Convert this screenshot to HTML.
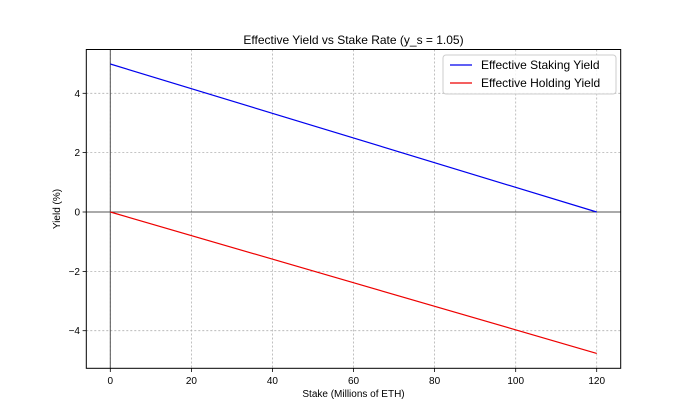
<!DOCTYPE html><html><head><style>body{margin:0;background:#fff}</style></head><body>
<svg width="690" height="414" xmlns="http://www.w3.org/2000/svg" font-family="Liberation Sans, DejaVu Sans, sans-serif">
<rect width="690" height="414" fill="#fff"/>
<g stroke="#b0b0b0" stroke-width="0.8" stroke-dasharray="2,2">
<line x1="110.3" y1="49.5" x2="110.3" y2="368.3"/><line x1="191.4" y1="49.5" x2="191.4" y2="368.3"/><line x1="272.4" y1="49.5" x2="272.4" y2="368.3"/><line x1="353.5" y1="49.5" x2="353.5" y2="368.3"/><line x1="434.6" y1="49.5" x2="434.6" y2="368.3"/><line x1="515.7" y1="49.5" x2="515.7" y2="368.3"/><line x1="596.7" y1="49.5" x2="596.7" y2="368.3"/>
<line x1="86.3" y1="93.3" x2="620.7" y2="93.3"/><line x1="86.3" y1="152.6" x2="620.7" y2="152.6"/><line x1="86.3" y1="271.4" x2="620.7" y2="271.4"/><line x1="86.3" y1="330.7" x2="620.7" y2="330.7"/>
</g>
<line x1="86.3" y1="212" x2="620.7" y2="212" stroke="#555" stroke-width="1"/>
<line x1="110.3" y1="49.5" x2="110.3" y2="368.3" stroke="#555" stroke-width="1"/>
<line x1="110.3" y1="64" x2="596.7" y2="212" stroke="#0000ee" stroke-width="1.2"/>
<line x1="110.3" y1="212" x2="596.7" y2="353.4" stroke="#ee0000" stroke-width="1.2"/>
<rect x="86.3" y="49.5" width="534.4" height="318.8" fill="none" stroke="#000" stroke-width="1"/>
<g stroke="#000" stroke-width="0.8">
<line x1="110.3" y1="368.3" x2="110.3" y2="372"/><line x1="191.4" y1="368.3" x2="191.4" y2="372"/><line x1="272.4" y1="368.3" x2="272.4" y2="372"/><line x1="353.5" y1="368.3" x2="353.5" y2="372"/><line x1="434.6" y1="368.3" x2="434.6" y2="372"/><line x1="515.7" y1="368.3" x2="515.7" y2="372"/><line x1="596.7" y1="368.3" x2="596.7" y2="372"/>
<line x1="82.6" y1="93.3" x2="86.3" y2="93.3"/><line x1="82.6" y1="152.6" x2="86.3" y2="152.6"/><line x1="82.6" y1="212" x2="86.3" y2="212"/><line x1="82.6" y1="271.4" x2="86.3" y2="271.4"/><line x1="82.6" y1="330.7" x2="86.3" y2="330.7"/>
</g>
<g font-size="10" text-anchor="middle" fill="#000">
<text x="110.3" y="384">0</text><text x="191.4" y="384">20</text><text x="272.4" y="384">40</text><text x="353.5" y="384">60</text><text x="434.6" y="384">80</text><text x="515.7" y="384">100</text><text x="596.7" y="384">120</text>
</g>
<g font-size="10" text-anchor="end" fill="#000">
<text x="80" y="96.8">4</text><text x="80" y="156.1">2</text><text x="80" y="215.5">0</text><text x="80" y="274.9">−2</text><text x="80" y="334.2">−4</text>
</g>
<text x="353.5" y="397" font-size="10" text-anchor="middle">Stake (Millions of ETH)</text>
<text transform="translate(60,209) rotate(-90)" font-size="10" text-anchor="middle">Yield (%)</text>
<text x="353.5" y="44" font-size="12" text-anchor="middle">Effective Yield vs Stake Rate (y_s = 1.05)</text>
<rect x="443" y="55" width="173" height="39" rx="3" fill="#fff" fill-opacity="0.8" stroke="#ccc"/>
<line x1="450" y1="65" x2="472" y2="65" stroke="#0000ee" stroke-width="1.2"/>
<line x1="450" y1="83" x2="472" y2="83" stroke="#ee0000" stroke-width="1.2"/>
<text x="481" y="69" font-size="12">Effective Staking Yield</text>
<text x="481" y="87" font-size="12">Effective Holding Yield</text>
</svg></body></html>
